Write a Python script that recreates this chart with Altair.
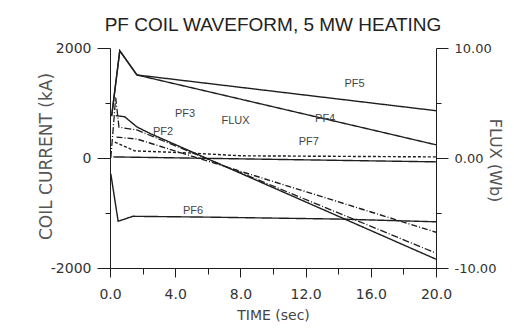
import altair as alt
import pandas as pd

TITLE = "PF COIL WAVEFORM, 5 MW HEATING"

# series (time in s, current in kA)
pf5_t = [0.1, 0.6, 1.65, 20.0]
pf5_v = [760, 1950, 1510, 860]
pf4_t = [0.1, 0.6, 1.65, 20.0]
pf4_v = [760, 1950, 1510, 240]
pf3_t = [0.35, 0.9, 1.65, 2.5, 20.0]
pf3_v = [770, 750, 565, 440, -1840]
pf2_t = [0.4, 1.65, 20.0]
pf2_v = [380, 345, -1350]
pf7_t = [0.3, 1.5, 5.0, 8.0, 20.0]
pf7_v = [290, 130, 90, 40, 20]
pf1_t = [0.2, 20.0]
pf1_v = [20, -70]
pf6_t = [0.05, 0.5, 1.4, 6.0, 14.0, 20.0]
pf6_v = [-290, -1150, -1060, -1075, -1110, -1160]
# flux in Wb (right axis)
flux_t = [0.05, 0.35, 0.55, 1.65, 20.0]
flux_v = [0.0, 5.5, 2.8, 2.55, -8.65]

# curve labels
label_text = ["PF5", "PF4", "PF3", "PF2", "FLUX", "PF7", "PF6"]
label_t = [15.0, 13.2, 4.6, 3.25, 7.7, 12.2, 5.1]
label_v = [1345, 709, 800, 473, 673, 290, -960]

left_ticks = [-2000, -1000, 0, 1000, 2000]
right_ticks = [-10, -5, 0, 5, 10]
x_ticks = [0, 2, 4, 6, 8, 10, 12, 14, 16, 18, 20]

series = {
    "PF5": (pf5_t, pf5_v), "PF4": (pf4_t, pf4_v), "PF3": (pf3_t, pf3_v),
    "PF2": (pf2_t, pf2_v), "PF7": (pf7_t, pf7_v), "PF1": (pf1_t, pf1_v),
    "PF6": (pf6_t, pf6_v),
}
rows = []
for name, (ts, vs) in series.items():
    for i, (t, v) in enumerate(zip(ts, vs)):
        rows.append({"series": name, "t": t, "v": v, "o": i})
df = pd.DataFrame(rows)
df_flux = pd.DataFrame({"t": flux_t, "v": flux_v, "o": list(range(len(flux_t)))})
df_lab = pd.DataFrame({"name": label_text, "t": label_t, "v": label_v})

INK = "#1e1e1e"
SANS = "Liberation Sans"

x_axis = alt.Axis(
    values=x_ticks,
    labelExpr="datum.value % 4 === 0 ? format(datum.value, '.1f') : ''",
    tickSize={"condition": {"test": "datum.value % 4 === 0", "value": 9}, "value": 6},
    labelFont="DejaVu Sans", labelFontSize=14, labelColor="#333", labelPadding=10,
    title="TIME (sec)", titleFont="DejaVu Sans", titleFontSize=14,
    titleFontWeight="normal", titleColor="#444", titleY=47, titleBaseline="middle",
    domainColor=INK, tickColor=INK, grid=False, labelFlush=False,
)
x_enc = alt.X("t:Q", scale=alt.Scale(domain=[0, 20], nice=False), axis=x_axis)

left_scale = alt.Scale(domain=[-2000, 2000], nice=False)

dash_domain = ["PF5", "PF4", "PF3", "PF2", "PF7", "PF1", "PF6"]
dash_range = [[1, 0], [1, 0], [1, 0], [6, 2, 1, 2], [3, 2], [1, 0], [1, 0]]

lines = alt.Chart(df).mark_line(color=INK, strokeWidth=1.4).encode(
    x=x_enc,
    y=alt.Y("v:Q", scale=left_scale, axis=alt.Axis(
        orient="left", values=left_ticks,
        labelExpr="abs(datum.value) == 1000 ? '' : (datum.value < 0 ? '-' : '') + abs(datum.value)",
        tickSize={"condition": {"test": "abs(datum.value) == 1000", "value": 5}, "value": 13},
        labelFont="DejaVu Sans", labelFontSize=14, labelColor="#333", labelPadding=6,
        title="COIL CURRENT (kA)", titleFont="DejaVu Sans", titleFontSize=17,
        titleFontWeight="normal", titleColor="#555", titleX=-64, titleY=108,
        titleBaseline="middle", titleAlign="center",
        domainColor=INK, tickColor=INK, grid=False,
    )),
    detail="series:N",
    order="o:Q",
    strokeDash=alt.StrokeDash("series:N", scale=alt.Scale(domain=dash_domain, range=dash_range), legend=None),
)

labels = alt.Chart(df_lab).mark_text(
    font=SANS, fontSize=11, color="#444", align="center", baseline="middle"
).encode(
    x=x_enc,
    y=alt.Y("v:Q", scale=left_scale, axis=None),
    text="name:N",
)

flux = alt.Chart(df_flux).mark_line(color=INK, strokeWidth=1.3, strokeDash=[7, 2, 1, 2]).encode(
    x=x_enc,
    y=alt.Y("v:Q", scale=alt.Scale(domain=[-10, 10], nice=False), axis=alt.Axis(
        orient="right", values=right_ticks,
        labelExpr="abs(datum.value) == 5 ? '' : (datum.value < 0 ? '-' : '') + format(abs(datum.value), '.2f')",
        tickSize={"condition": {"test": "abs(datum.value) == 5", "value": 5}, "value": 12},
        labelFont="DejaVu Sans", labelFontSize=13, labelColor="#333", labelPadding=6,
        title="FLUX (Wb)", titleFont="DejaVu Sans", titleFontSize=16,
        titleFontWeight="normal", titleColor="#555", titleX=58, titleY=112,
        titleBaseline="middle", titleAlign="center",
        domainColor=INK, tickColor=INK, grid=False,
    )),
    order="o:Q",
)

chart = alt.layer(lines, labels, flux).resolve_scale(y="independent").properties(
    width=326, height=220,
    autosize=alt.AutoSizeParams(type="none"),
    padding={"left": 102, "top": 40, "right": 70, "bottom": 60},
    title=alt.TitleParams(text=TITLE, font=SANS, fontSize=19,
                          fontWeight="normal", color="#222", anchor="middle", offset=6),
).configure_view(stroke=None)

chart.save("out.html", embed_options={"renderer": "svg", "actions": False})
